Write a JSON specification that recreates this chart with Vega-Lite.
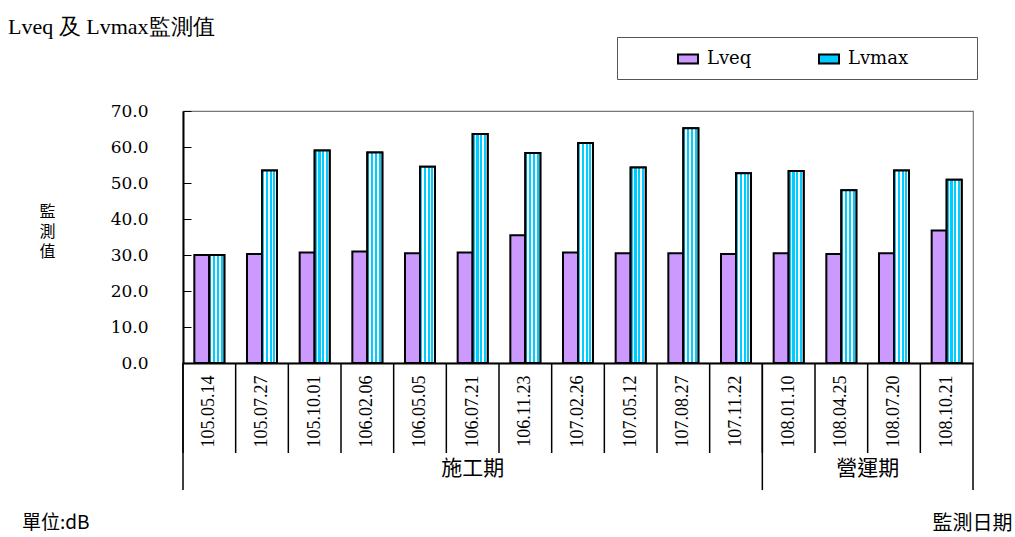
{
  "$schema": "https://vega.github.io/schema/vega-lite/v6.json",
  "width": 790,
  "height": 252,
  "autosize": {"type": "none"},
  "padding": {"left": 183, "top": 111, "right": 42, "bottom": 174},
  "background": "white",
  "config": {
    "view": {"stroke": "#777777", "strokeWidth": 1.2},
    "font": "Liberation Serif",
    "axisY": {
      "labelOverlap": false,
      "grid": true,
      "gridColor": "black",
      "gridWidth": 1,
      "gridDash": [8, 2000],
      "gridOpacity": 1,
      "domainColor": "black",
      "domainWidth": 2,
      "ticks": false,
      "labelPadding": 35,
      "labelFont": "DejaVu Serif",
      "labelFontSize": 17,
      "labelColor": "black",
      "titleAngle": 0,
      "titleFont": "Noto Sans CJK TC",
      "titleFontSize": 16,
      "titleFontWeight": "normal",
      "titleColor": "black",
      "titleLineHeight": 20,
      "titleX": -136,
      "titleY": 92,
      "titleAlign": "center",
      "titleBaseline": "top"
    },
    "axisX": {
      "grid": false,
      "titleFont": "Noto Sans CJK TC",
      "titleFontSize": 20,
      "titleFontWeight": "normal",
      "titleColor": "black",
      "titleX": 829,
      "titleY": 160,
      "titleAlign": "right",
      "titleBaseline": "middle",
      "domainColor": "black",
      "domainWidth": 2,
      "ticks": false,
      "labelAngle": 270,
      "labelAlign": "right",
      "labelBaseline": "middle",
      "labelPadding": 12,
      "labelFont": "Liberation Serif",
      "labelFontSize": 18,
      "labelColor": "black"
    }
  },
  "title": {
    "text": "Lveq 及 Lvmax監測值",
    "anchor": "start",
    "frame": "group",
    "font": "Liberation Serif",
    "fontSize": 22,
    "fontWeight": "normal",
    "color": "black",
    "dx": -175,
    "dy": 6
  },
  "datasets": {
    "obs": [
      {"date": "105.05.14", "period": "施工期", "Lveq": 30.0, "Lvmax": 30.0},
      {"date": "105.07.27", "period": "施工期", "Lveq": 30.3, "Lvmax": 53.5},
      {"date": "105.10.01", "period": "施工期", "Lveq": 30.7, "Lvmax": 59.0},
      {"date": "106.02.06", "period": "施工期", "Lveq": 31.0, "Lvmax": 58.5},
      {"date": "106.05.05", "period": "施工期", "Lveq": 30.5, "Lvmax": 54.5},
      {"date": "106.07.21", "period": "施工期", "Lveq": 30.7, "Lvmax": 63.6},
      {"date": "106.11.23", "period": "施工期", "Lveq": 35.5, "Lvmax": 58.3},
      {"date": "107.02.26", "period": "施工期", "Lveq": 30.7, "Lvmax": 61.1},
      {"date": "107.05.12", "period": "施工期", "Lveq": 30.5, "Lvmax": 54.3},
      {"date": "107.08.27", "period": "施工期", "Lveq": 30.5, "Lvmax": 65.2},
      {"date": "107.11.22", "period": "施工期", "Lveq": 30.3, "Lvmax": 52.7},
      {"date": "108.01.10", "period": "營運期", "Lveq": 30.5, "Lvmax": 53.3},
      {"date": "108.04.25", "period": "營運期", "Lveq": 30.3, "Lvmax": 48.0},
      {"date": "108.07.20", "period": "營運期", "Lveq": 30.5, "Lvmax": 53.5},
      {"date": "108.10.21", "period": "營運期", "Lveq": 36.8, "Lvmax": 50.9}
    ]
  },
  "data": {"name": "obs"},
  "layer": [
    {
      "transform": [{"fold": ["Lveq", "Lvmax"], "as": ["series", "value"]}],
      "mark": {"type": "bar", "stroke": "black", "strokeWidth": 2},
      "encoding": {
        "x": {
          "field": "date", "type": "nominal", "sort": null,
          "scale": {"paddingInner": 0, "paddingOuter": 0},
          "axis": {"title": "監測日期"}
        },
        "xOffset": {
          "field": "series", "type": "nominal",
          "scale": {"domain": ["Lveq", "Lvmax"], "paddingInner": 0, "paddingOuter": 0.755}
        },
        "y": {
          "field": "value", "type": "quantitative",
          "scale": {"domain": [0, 70], "nice": false},
          "axis": {"title": ["監", "測", "值"], "values": [0, 10, 20, 30, 40, 50, 60, 70], "format": ".1f", "labelOverlap": false, "grid": true}
        },
        "color": {
          "field": "series", "type": "nominal",
          "scale": {"domain": ["Lveq", "Lvmax"], "range": ["#CC99FF", "#00CCFF"]},
          "legend": {
            "orient": "none",
            "legendX": 434,
            "legendY": -74,
            "direction": "horizontal",
            "title": "\u00a0",
            "titleOrient": "right",
            "titlePadding": 58,
            "titleFontSize": 18,
            "strokeColor": "#555555",
            "fillColor": "white",
            "padding": 11,
            "symbolType": "M-1,-0.45H1V0.45H-1Z",
            "symbolSize": 400,
            "symbolStrokeColor": "black",
            "symbolStrokeWidth": 2,
            "symbolOffset": 49,
            "columnPadding": 17,
            "labelFont": "DejaVu Serif",
            "labelFontSize": 18,
            "labelColor": "black",
            "labelOffset": 8
          }
        }
      }
    },
    {
      "transform": [
        {"fold": ["Lveq", "Lvmax"], "as": ["series", "value"]},
        {"filter": "datum.series === 'Lvmax'"}
      ],
      "mark": {
        "type": "bar",
        "stroke": "black",
        "strokeWidth": 2,
        "fill": {
          "gradient": "linear", "x1": 0, "y1": 0, "x2": 1, "y2": 0,
          "stops": [
            {"offset": 0, "color": "#00CCFF"}, {"offset": 0.14, "color": "#00CCFF"},
            {"offset": 0.14, "color": "#FFFFFF"}, {"offset": 0.25, "color": "#FFFFFF"},
            {"offset": 0.25, "color": "#00CCFF"}, {"offset": 0.39, "color": "#00CCFF"},
            {"offset": 0.39, "color": "#FFFFFF"}, {"offset": 0.5, "color": "#FFFFFF"},
            {"offset": 0.5, "color": "#00CCFF"}, {"offset": 0.64, "color": "#00CCFF"},
            {"offset": 0.64, "color": "#FFFFFF"}, {"offset": 0.75, "color": "#FFFFFF"},
            {"offset": 0.75, "color": "#00CCFF"}, {"offset": 0.89, "color": "#00CCFF"},
            {"offset": 0.89, "color": "#FFFFFF"}, {"offset": 1, "color": "#FFFFFF"}
          ]
        }
      },
      "encoding": {
        "x": {"field": "date", "type": "nominal", "sort": null, "axis": {"title": "監測日期"}},
        "xOffset": {"field": "series", "type": "nominal"},
        "y": {"field": "value", "type": "quantitative", "axis": {"title": ["監", "測", "值"], "values": [0, 10, 20, 30, 40, 50, 60, 70], "format": ".1f", "labelOverlap": false, "grid": true}}
      }
    },
    {
      "mark": {"type": "rule", "color": "black", "strokeWidth": 1.5},
      "encoding": {
        "x": {"field": "date", "type": "nominal", "sort": null, "bandPosition": 0, "axis": {"title": "監測日期"}},
        "y": {"datum": 0, "axis": {"title": ["監", "測", "值"], "values": [0, 10, 20, 30, 40, 50, 60, 70], "format": ".1f", "labelOverlap": false, "grid": true}},
        "y2": {"datum": -25}
      }
    },
    {
      "transform": [{"filter": "datum.date === '105.05.14' || datum.date === '108.01.10'"}],
      "mark": {"type": "rule", "color": "black", "strokeWidth": 1.5},
      "encoding": {
        "x": {"field": "date", "type": "nominal", "sort": null, "bandPosition": 0, "axis": {"title": "監測日期"}},
        "y": {"datum": 0, "axis": {"title": ["監", "測", "值"], "values": [0, 10, 20, 30, 40, 50, 60, 70], "format": ".1f", "labelOverlap": false, "grid": true}},
        "y2": {"datum": -35.3}
      }
    },
    {
      "transform": [{"filter": "datum.date === '108.10.21'"}],
      "mark": {"type": "rule", "color": "black", "strokeWidth": 1.5},
      "encoding": {
        "x": {"field": "date", "type": "nominal", "sort": null, "bandPosition": 1, "axis": {"title": "監測日期"}},
        "y": {"datum": 0, "axis": {"title": ["監", "測", "值"], "values": [0, 10, 20, 30, 40, 50, 60, 70], "format": ".1f", "labelOverlap": false, "grid": true}},
        "y2": {"datum": -35.3}
      }
    },
    {
      "transform": [{"filter": "datum.date === '106.07.21'"}],
      "mark": {"type": "text", "font": "Noto Sans CJK TC", "fontSize": 21, "color": "black", "baseline": "middle"},
      "encoding": {
        "x": {"field": "date", "type": "nominal", "sort": null, "axis": {"title": "監測日期"}},
        "y": {"datum": -29.5, "axis": {"title": ["監", "測", "值"], "values": [0, 10, 20, 30, 40, 50, 60, 70], "format": ".1f", "labelOverlap": false, "grid": true}},
        "text": {"field": "period"}
      }
    },
    {
      "transform": [{"filter": "datum.date === '108.07.20'"}],
      "mark": {"type": "text", "font": "Noto Sans CJK TC", "fontSize": 21, "color": "black", "baseline": "middle"},
      "encoding": {
        "x": {"field": "date", "type": "nominal", "sort": null, "bandPosition": 0, "axis": {"title": "監測日期"}},
        "y": {"datum": -29.5, "axis": {"title": ["監", "測", "值"], "values": [0, 10, 20, 30, 40, 50, 60, 70], "format": ".1f", "labelOverlap": false, "grid": true}},
        "text": {"field": "period"}
      }
    },
    {
      "transform": [{"filter": "datum.date === '105.05.14'"}],
      "mark": {"type": "text", "font": "Noto Sans CJK TC", "fontSize": 19, "color": "black", "baseline": "middle", "align": "left", "dx": -161},
      "encoding": {
        "x": {"field": "date", "type": "nominal", "sort": null, "bandPosition": 0, "axis": {"title": "監測日期"}},
        "y": {"datum": -44.4, "axis": {"title": ["監", "測", "值"], "values": [0, 10, 20, 30, 40, 50, 60, 70], "format": ".1f", "labelOverlap": false, "grid": true}},
        "text": {"value": "單位:dB"}
      }
    }
  ]
}
